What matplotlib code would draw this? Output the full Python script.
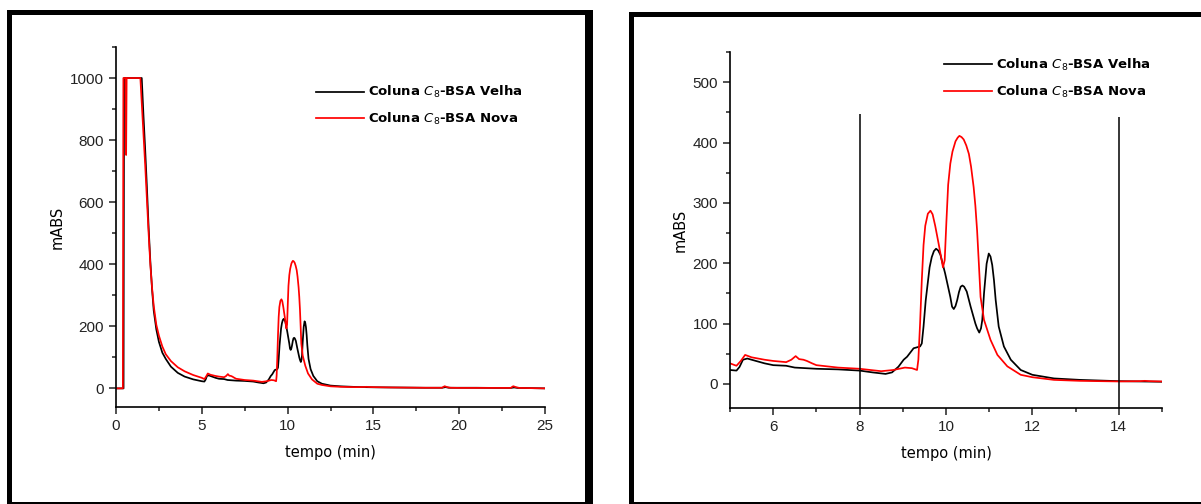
import matplotlib
matplotlib.use("Agg")
import matplotlib.pyplot as plt
from matplotlib.patches import Rectangle
from matplotlib.ticker import MultipleLocator

# cromatograma coluna C8-BSA velha (preto)
t_velha = [0, 0.44, 0.47, 1.5, 1.6, 1.7, 1.8, 1.9, 2.0, 2.1, 2.2, 2.35, 2.5, 2.7,
           2.9, 3.2, 3.6, 4.0, 4.5, 5.0, 5.15, 5.22, 5.3, 5.4, 5.6, 5.8, 6.0, 6.3,
           6.5, 7.0, 7.5, 8.0, 8.3, 8.6, 8.75, 8.9, 9.02, 9.1, 9.25, 9.4, 9.44,
           9.48, 9.53, 9.62, 9.67, 9.72, 9.77, 9.82, 9.87, 9.98, 10.1, 10.14,
           10.18, 10.22, 10.26, 10.3, 10.34, 10.38, 10.42, 10.48, 10.57, 10.68,
           10.72, 10.77, 10.81, 10.84, 10.88, 10.94, 10.99, 11.03, 11.07, 11.11,
           11.15, 11.22, 11.34, 11.5, 11.73, 12.0, 12.5, 13.1, 14.0, 15.0, 16.0,
           17.0, 18.0, 19.0, 19.2, 19.4, 20.0, 21.0, 22.0, 23.0, 23.2, 23.4,
           24.0, 25.0]
v_velha = [0, 0, 1000, 1000, 880, 770, 650, 520, 410, 320, 250, 190, 150, 115,
           95, 70, 50, 38, 29, 23, 22, 28, 40, 42, 38, 34, 31, 30,
           27, 25, 24, 22, 19, 16.5, 19, 28.5, 40, 45, 59, 62, 67,
           95, 138, 193, 210, 220, 224, 221, 214, 183, 144, 128,
           124, 129, 139, 152, 161, 163, 161, 153, 128, 100,
           92, 85, 92, 106, 150, 199, 216, 211, 197, 172,
           139, 95, 62, 40, 23, 15, 9, 6.6, 4.5, 3.5, 3,
           2.5, 2, 2, 4, 2, 2, 2, 1.5, 1.5, 3, 1.5,
           1, 0]

# cromatograma coluna C8-BSA nova (vermelho)
t_nova = [0, 0.40, 0.43, 0.56, 0.59, 0.62, 0.70, 1.42, 1.55, 1.7, 1.8, 1.9, 2.0,
          2.1, 2.2, 2.35, 2.5, 2.7, 2.9, 3.2, 3.6, 4.0, 4.5, 5.0, 5.15, 5.25,
          5.35, 5.5, 5.8, 6.0, 6.3, 6.42, 6.52, 6.6, 6.7, 6.78, 6.9, 7.0, 7.5,
          8.0, 8.5, 8.78, 9.05, 9.21, 9.33, 9.36, 9.40, 9.44, 9.48, 9.52, 9.58,
          9.64, 9.69, 9.75, 9.83, 9.9, 9.93, 9.97, 10.01, 10.05, 10.1, 10.15,
          10.22, 10.27, 10.31, 10.36, 10.41, 10.47, 10.53, 10.58, 10.64, 10.68,
          10.72, 10.76, 10.8, 10.88, 11.03, 11.19, 11.42, 11.73, 12.0, 12.5,
          13.1, 14.0, 14.5, 14.6, 14.7, 15.0, 16.0, 17.0, 18.0, 19.0, 19.15,
          19.3, 19.5, 20.0, 21.0, 22.0, 23.0, 23.15, 23.3, 23.5, 24.0, 25.0]
v_nova = [0, 0, 1000, 1000, 752, 1000, 1000, 1000, 870, 720, 610, 500, 400,
          325, 265, 205, 170, 135, 110, 88, 68, 55, 43, 34, 30, 38,
          48, 44, 40, 38, 36, 40, 46, 41, 40, 38, 34, 31, 27,
          25, 21, 23, 27, 26, 23, 40, 100, 172, 230, 262, 282,
          287, 281, 262, 232, 205, 193, 205, 270, 330, 365, 385,
          402, 408, 411, 409, 405, 395, 381, 360, 326, 295,
          254, 200, 144, 106, 73, 48, 29, 15, 11, 6.6,
          5, 4, 4.5, 5, 4.5, 4, 3, 2.5, 2, 2, 7,
          4, 2, 1.5, 1.5, 1.5, 1.5, 7, 4, 1.5, 1, 0]

labels = [r"Coluna $\mathit{C}_{8}$-BSA Velha", r"Coluna $\mathit{C}_{8}$-BSA Nova"]
linhas_x = [8, 14]
linhas_topo = [447, 442]

W, H = 1201, 504
fig = plt.figure(figsize=(W / 100, H / 100), dpi=100)

# molduras
bg = fig.add_axes([0, 0, 1, 1])
bg.set_xlim(0, W)
bg.set_ylim(H, 0)
bg.axis("off")
for (x0, y0, w, h) in [(7, 10, 586, 5), (7, 10, 5, 494), (585, 10, 8, 494),
                       (7, 502, 586, 2), (629, 12, 572, 5), (629, 12, 5, 492),
                       (629, 502, 572, 2)]:
    bg.add_patch(Rectangle((x0, y0), w, h, color="black", lw=0))


def estilo(ax, anchor):
    for s in ["top", "right"]:
        ax.spines[s].set_visible(False)
    for s in ["left", "bottom"]:
        ax.spines[s].set_linewidth(1.2)
    ax.tick_params(which="both", direction="out", width=1.1, colors="#222222",
                   labelsize=11)
    ax.tick_params(which="major", length=5)
    ax.tick_params(which="minor", length=3)
    for lab in ax.get_xticklabels() + ax.get_yticklabels():
        lab.set_family("Liberation Sans")
    ax.set_xlabel("tempo (min)", fontsize=10.5, labelpad=9)
    ax.set_ylabel("mABS", fontsize=10.5, labelpad=4)
    ax.legend(frameon=False, handlelength=3.6, handletextpad=0.3,
              labelspacing=0.8, borderpad=0, loc="upper left",
              bbox_to_anchor=anchor, prop={"weight": "bold", "size": 9.5})


# painel esquerdo
ax1 = fig.add_axes([116 / W, 1 - 407 / H, 429 / W, 360 / H])
ax1.plot(t_velha, v_velha, color="black", lw=1.25, label=labels[0])
ax1.plot(t_nova, v_nova, color="#ff0000", lw=1.25, label=labels[1])
ax1.set_xlim(0, 25)
ax1.set_ylim(-60, 1100)
ax1.xaxis.set_major_locator(MultipleLocator(5))
ax1.xaxis.set_minor_locator(MultipleLocator(2.5))
ax1.yaxis.set_major_locator(MultipleLocator(200))
ax1.yaxis.set_minor_locator(MultipleLocator(100))
estilo(ax1, (0.451, 0.915))

# painel direito (ampliacao 5-15 min)
ax2 = fig.add_axes([730 / W, 1 - 408 / H, 432 / W, 356 / H])
ax2.plot(t_velha, v_velha, color="black", lw=1.25, label=labels[0])
ax2.plot(t_nova, v_nova, color="#ff0000", lw=1.25, label=labels[1])
for x, top in zip(linhas_x, linhas_topo):
    ax2.vlines(x, -40, top, color="black", lw=1.1)
ax2.set_xlim(5, 15)
ax2.set_ylim(-40, 550)
ax2.xaxis.set_major_locator(MultipleLocator(2))
ax2.xaxis.set_minor_locator(MultipleLocator(1))
ax2.yaxis.set_major_locator(MultipleLocator(100))
ax2.yaxis.set_minor_locator(MultipleLocator(50))
estilo(ax2, (0.481, 1.005))

fig.savefig("out.png", dpi=100)
